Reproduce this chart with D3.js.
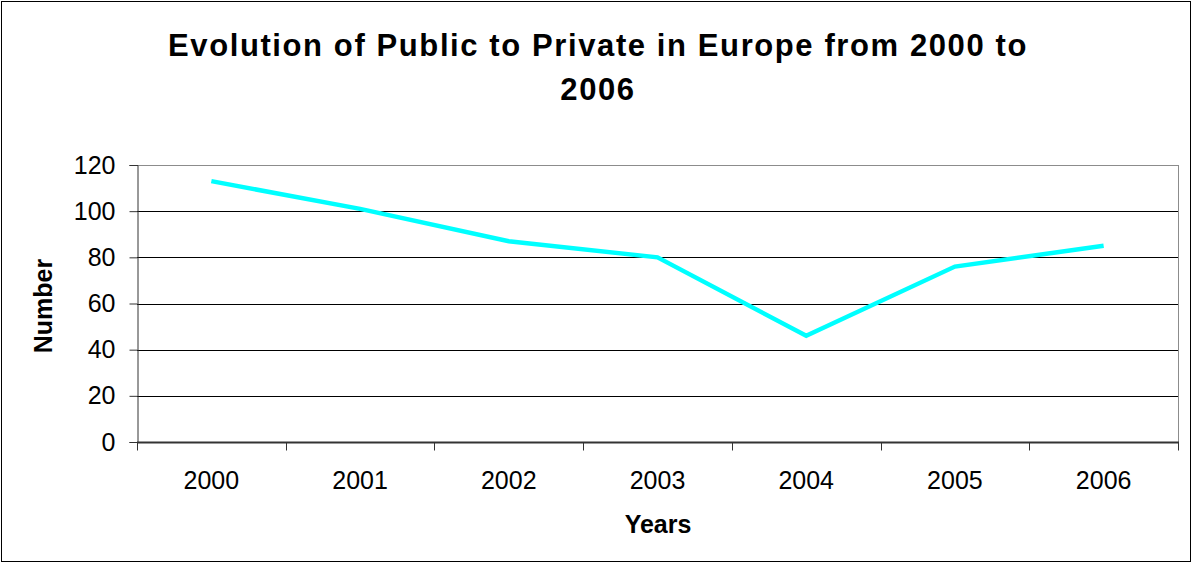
<!DOCTYPE html>
<html lang="en">
  <head>
    <meta charset="UTF-8" />
    <title>Evolution of Public to Private in Europe</title>
    <script src="https://cdn.jsdelivr.net/npm/d3@7"></script>
    <style>
      body { margin: 0; background: #fff; }
      text { font-family: "Liberation Sans", Arial, sans-serif; fill: #000; }
    </style>
  </head>
  <body>
    <svg id="chart" width="1193" height="564"></svg>
    <script>
      // data
      let years = ["2000", "2001", "2002", "2003", "2004", "2005", "2006"];
      let values = [113, 101, 87, 80, 46, 76, 85];
      let yTicks = [0, 20, 40, 60, 80, 100, 120];

      let titleLines = ["Evolution of Public to Private in Europe from 2000 to", "2006"];

      let svg = d3.select("#chart");
      let margin = { left: 137, right: 1178, top: 165, bottom: 442 };

      // outer frame
      svg.append("rect")
        .attr("x", 1.5).attr("y", 1.5)
        .attr("width", 1189).attr("height", 560)
        .attr("fill", "#fff")
        .attr("stroke", "#000")
        .attr("stroke-width", 1);

      let x = d3.scaleBand().domain(years).range([margin.left, margin.right]);
      let y = d3.scaleLinear().domain([0, 120]).range([margin.bottom, margin.top]);

      // gridlines
      svg.append("g")
        .selectAll("line")
        .data(yTicks.filter(d => d > 0))
        .join("line")
        .attr("x1", margin.left).attr("x2", margin.right)
        .attr("y1", d => Math.round(y(d)) + 0.5)
        .attr("y2", d => Math.round(y(d)) + 0.5)
        .attr("stroke", d => d == 120 ? "#8c8c8c" : "#000")
        .attr("stroke-width", 1);

      // right border of plot area
      svg.append("line")
        .attr("x1", margin.right + 0.5).attr("x2", margin.right + 0.5)
        .attr("y1", margin.top).attr("y2", margin.bottom)
        .attr("stroke", "#8c8c8c");

      // y axis
      let yAxis = svg.append("g")
        .attr("transform", "translate(" + (margin.left + 0.5) + ",0)")
        .call(d3.axisLeft(y).tickValues(yTicks).tickSize(8).tickPadding(14));
      yAxis.select(".domain").attr("stroke", "#333");
      yAxis.selectAll(".tick line").attr("stroke", "#333");
      yAxis.selectAll("text")
        .style("font-size", "25px")
        .attr("font-family", "Liberation Sans, Arial, sans-serif");

      // x axis with ticks at band edges
      let xAxis = svg.append("g")
        .attr("transform", "translate(0," + (margin.bottom + 0.5) + ")");
      xAxis.append("line")
        .attr("x1", margin.left).attr("x2", margin.right + 1)
        .attr("stroke", "#333").attr("stroke-width", 2);
      let edges = years.map(d => x(d)).concat([margin.right]);
      xAxis.selectAll(".edge")
        .data(edges)
        .join("line")
        .attr("class", "edge")
        .attr("x1", d => Math.round(d) + 0.5).attr("x2", d => Math.round(d) + 0.5)
        .attr("y1", 0).attr("y2", 8)
        .attr("stroke", "#333");
      xAxis.selectAll(".lbl")
        .data(years)
        .join("text")
        .attr("class", "lbl")
        .attr("x", d => x(d) + x.bandwidth() / 2)
        .attr("y", 46)
        .attr("text-anchor", "middle")
        .style("font-size", "25px")
        .text(d => d);

      // the line
      let line = d3.line()
        .x((d, i) => x(years[i]) + x.bandwidth() / 2)
        .y(d => y(d));
      svg.append("path")
        .datum(values)
        .attr("d", line)
        .attr("fill", "none")
        .attr("stroke", "#00ffff")
        .attr("stroke-width", 4.5)
        .attr("stroke-linejoin", "miter");

      // title
      svg.append("g")
        .selectAll("text")
        .data(titleLines)
        .join("text")
        .attr("x", 598)
        .attr("y", (d, i) => 56 + i * 44)
        .attr("text-anchor", "middle")
        .style("font-size", "31px")
        .style("font-weight", "bold")
        .style("letter-spacing", "1.6px")
        .text(d => d);

      // axis titles
      svg.append("text")
        .attr("x", 658).attr("y", 533)
        .attr("text-anchor", "middle")
        .style("font-size", "25px")
        .style("font-weight", "bold")
        .text("Years");
      svg.append("text")
        .attr("transform", "translate(52,306) rotate(-90)")
        .attr("text-anchor", "middle")
        .style("font-size", "25px")
        .style("font-weight", "bold")
        .text("Number");
    </script>
  </body>
</html>
